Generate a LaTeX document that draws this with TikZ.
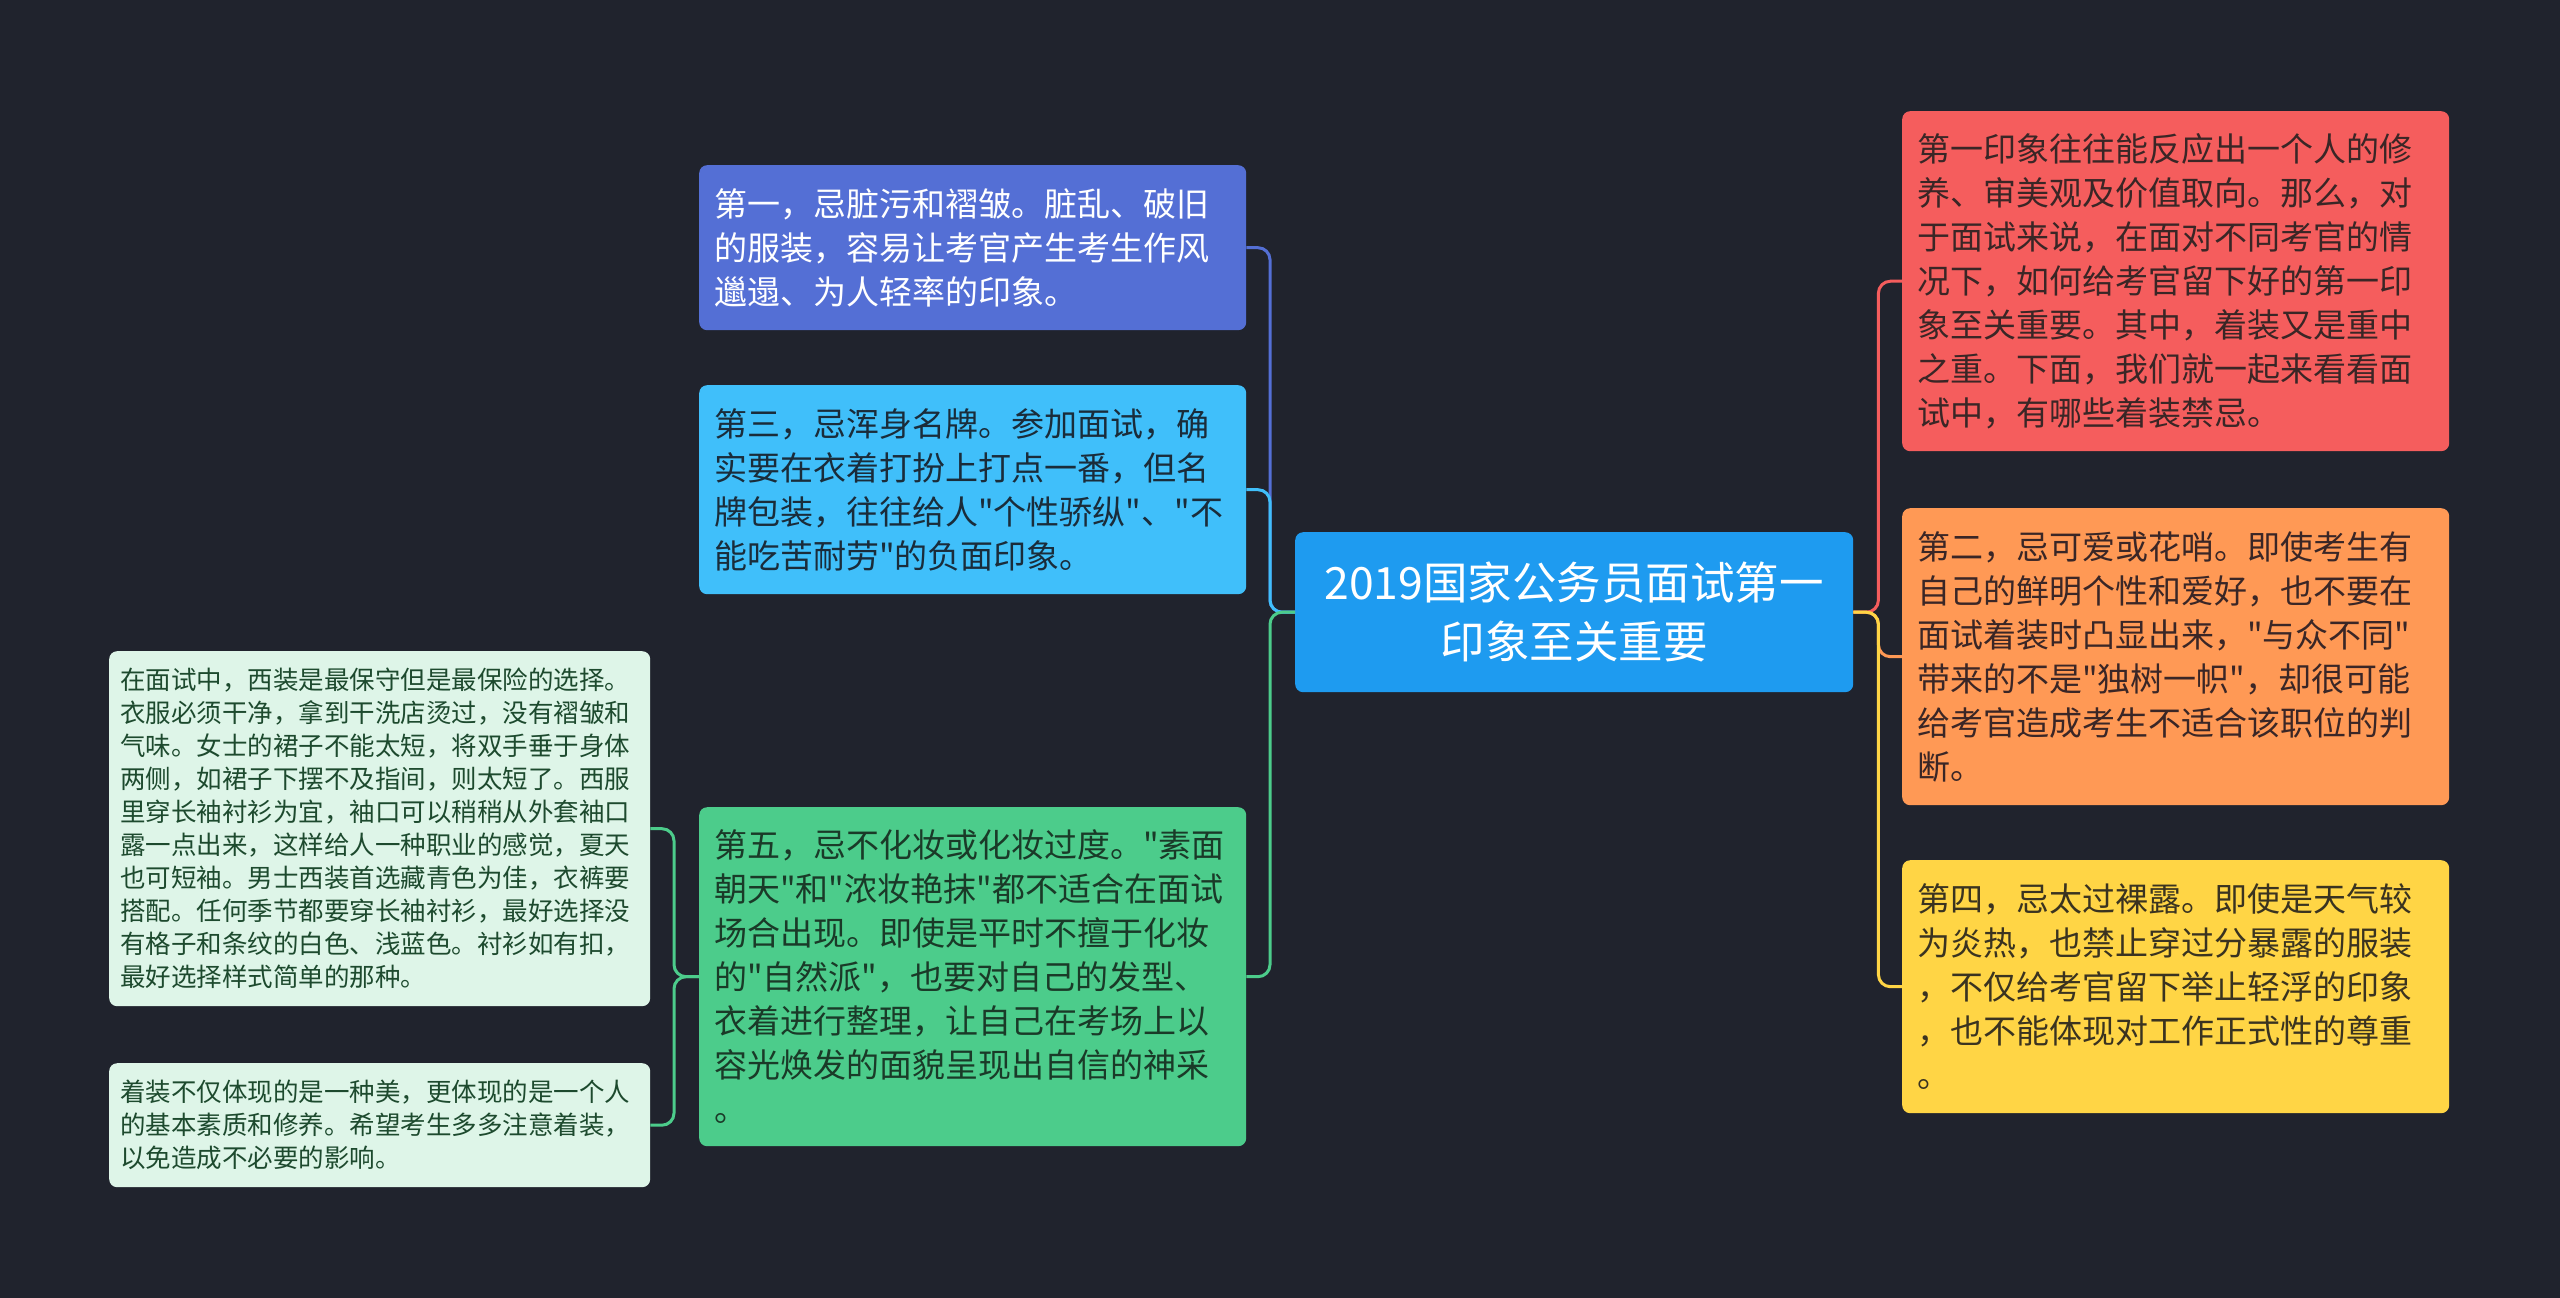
\documentclass[tikz,border=0pt]{standalone}
\usepackage{fontspec}
\setmainfont{Noto Sans CJK SC}[Ligatures=TeXOff]
\definecolor{bg}{HTML}{20232D}
\definecolor{cN1}{HTML}{546FD5}
\definecolor{cN3}{HTML}{40BFFA}
\definecolor{cN5}{HTML}{4CCC8B}
\definecolor{cCtr}{HTML}{1E9BF0}
\definecolor{cR1}{HTML}{F55D5D}
\definecolor{cR2}{HTML}{FF9955}
\definecolor{cR4}{HTML}{FFD545}
\definecolor{mint}{HTML}{DEF5E8}
\definecolor{minttext}{HTML}{1D4A2E}
\definecolor{tN3}{HTML}{1A2C3A}
\definecolor{tN5}{HTML}{1A3A28}
\definecolor{tR}{HTML}{3A2626}
\definecolor{tY}{HTML}{3A3320}
\begin{document}
\begin{tikzpicture}[x=1pt,y=-1pt,
  mainbox/.style={rectangle, rounded corners=8pt, anchor=north west, align=left,
    inner xsep=15pt, inner ysep=0pt, text width=517pt,
    font=\fontsize{33}{44}\selectfont},
  smallbox/.style={rectangle, rounded corners=8pt, anchor=north west, align=left,
    inner xsep=11pt, inner ysep=0pt, text width=519pt,
    font=\fontsize{25.5}{33}\selectfont, fill=mint, text=minttext},
  link/.style={line width=3pt, rounded corners=12pt}]
\fill[bg] (0,0) rectangle (2560,1298);

\node[mainbox, fill=cCtr, text=white, align=center, text width=528pt, inner xsep=15pt,
  minimum height=160pt, font=\fontsize{44.5}{59}\selectfont] (ctr) at (1295,532)
  {2019国家公务员面试第一\\印象至关重要};

\node[mainbox, fill=cN1, text=white, minimum height=165pt] (n1) at (699,165)
  {第一，忌脏污和褶皱。脏乱、破旧\\的服装，容易让考官产生考生作风\\邋遢、为人轻率的印象。};

\node[mainbox, fill=cN3, text=tN3, minimum height=209pt] (n3) at (699,385)
  {第三，忌浑身名牌。参加面试，确\\实要在衣着打扮上打点一番，但名\\牌包装，往往给人"个性骄纵"、"不\\能吃苦耐劳"的负面印象。};

\node[mainbox, fill=cN5, text=tN5, minimum height=339pt] (n5) at (699,807)
  {第五，忌不化妆或化妆过度。"素面\\朝天"和"浓妆艳抹"都不适合在面试\\场合出现。即使是平时不擅于化妆\\的"自然派"，也要对自己的发型、\\衣着进行整理，让自己在考场上以\\容光焕发的面貌呈现出自信的神采\\。};

\node[smallbox, minimum height=355pt] (l1) at (109,651)
  {在面试中，西装是最保守但是最保险的选择。\\衣服必须干净，拿到干洗店烫过，没有褶皱和\\气味。女士的裙子不能太短，将双手垂于身体\\两侧，如裙子下摆不及指间，则太短了。西服\\里穿长袖衬衫为宜，袖口可以稍稍从外套袖口\\露一点出来，这样给人一种职业的感觉，夏天\\也可短袖。男士西装首选藏青色为佳，衣裤要\\搭配。任何季节都要穿长袖衬衫，最好选择没\\有格子和条纹的白色、浅蓝色。衬衫如有扣，\\最好选择样式简单的那种。};

\node[smallbox, minimum height=124pt] (l2) at (109,1063)
  {着装不仅体现的是一种美，更体现的是一个人\\的基本素质和修养。希望考生多多注意着装，\\以免造成不必要的影响。};

\node[mainbox, fill=cR1, text=tR, minimum height=340pt] (r1) at (1902,111)
  {第一印象往往能反应出一个人的修\\养、审美观及价值取向。那么，对\\于面试来说，在面对不同考官的情\\况下，如何给考官留下好的第一印\\象至关重要。其中，着装又是重中\\之重。下面，我们就一起来看看面\\试中，有哪些着装禁忌。};

\node[mainbox, fill=cR2, text=tR, minimum height=297pt] (r2) at (1902,508)
  {第二，忌可爱或花哨。即使考生有\\自己的鲜明个性和爱好，也不要在\\面试着装时凸显出来，"与众不同"\\带来的不是"独树一帜"，却很可能\\给考官造成考生不适合该职位的判\\断。};

\node[mainbox, fill=cR4, text=tY, minimum height=253pt] (r4) at (1902,860)
  {第四，忌太过裸露。即使是天气较\\为炎热，也禁止穿过分暴露的服装\\，不仅给考官留下举止轻浮的印象\\，也不能体现对工作正式性的尊重\\。};

\draw[link, cN1] (ctr.west) -- ++(-25,0) |- (n1.east);
\draw[link, cN3] (ctr.west) -- ++(-25,0) |- (n3.east);
\draw[link, cN5] (ctr.west) -- ++(-25,0) |- (n5.east);
\draw[link, cN5] (n5.west) -- ++(-25,0) |- (l1.east);
\draw[link, cN5] (n5.west) -- ++(-25,0) |- (l2.east);
\draw[link, cR1] (ctr.east) -- ++(25,0) |- (r1.west);
\draw[link, cR2] (ctr.east) -- ++(25,0) |- (r2.west);
\draw[link, cR4] (ctr.east) -- ++(25,0) |- (r4.west);
\end{tikzpicture}
\end{document}
